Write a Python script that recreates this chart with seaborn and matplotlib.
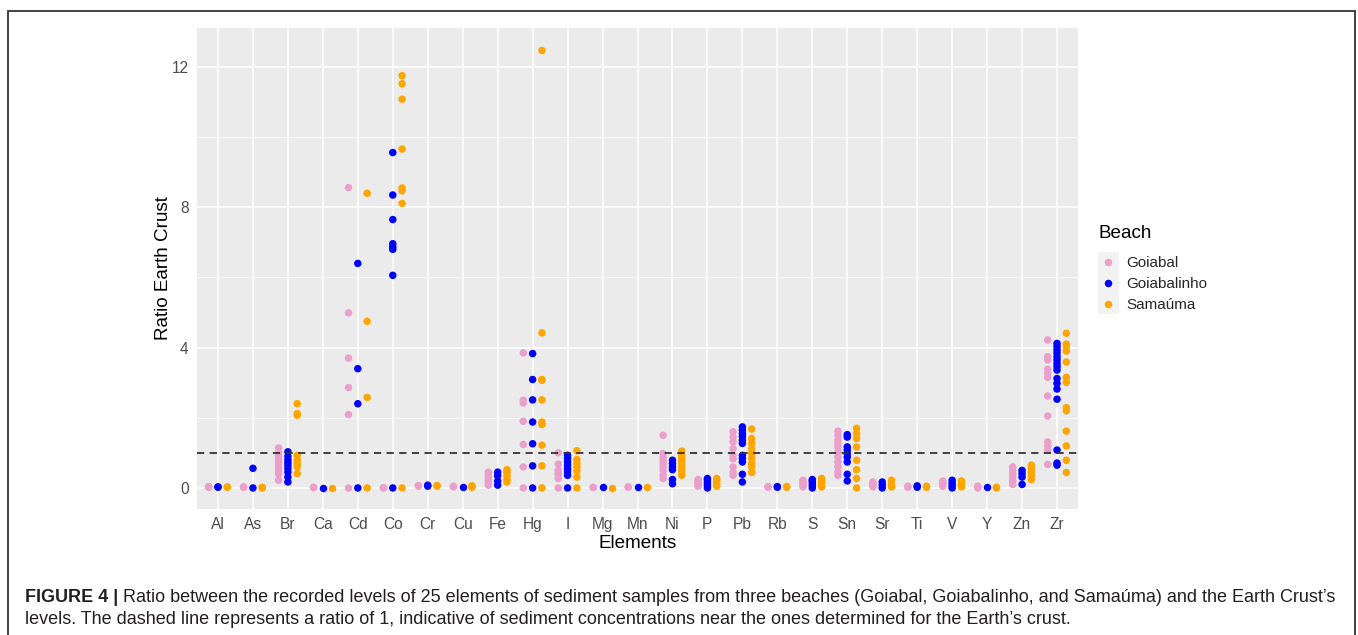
import matplotlib
matplotlib.use("Agg")
import matplotlib.pyplot as plt
import matplotlib.patches as mpatches
from matplotlib.ticker import MultipleLocator
import seaborn as sns
import pandas as pd

elements = ["Al", "As", "Br", "Ca", "Cd", "Co", "Cr", "Cu", "Fe", "Hg", "I", "Mg", "Mn",
            "Ni", "P", "Pb", "Rb", "S", "Sn", "Sr", "Ti", "V", "Y", "Zn", "Zr"]
beaches = ["Goiabal", "Goiabalinho", "Samaúma"]

goiabal = [
    [0.02, 0.03, 0.04],
    [0.02, 0.03],
    [1.14, 1.0, 0.9, 0.84, 0.75, 0.7, 0.6, 0.5, 0.4, 0.22],
    [0.01, 0.02],
    [8.56, 4.99, 3.70, 2.86, 2.09, 0.0],
    [0.0, 0.01],
    [0.05, 0.07],
    [0.03, 0.05],
    [0.08, 0.15, 0.22, 0.3, 0.38, 0.45],
    [3.85, 2.5, 2.42, 1.9, 1.24, 0.6, 0.0],
    [1.0, 0.68, 0.5, 0.42, 0.38, 0.27, 0.0],
    [0.01, 0.02],
    [0.02, 0.03],
    [1.5, 0.98, 0.88, 0.79, 0.7, 0.6, 0.5, 0.36, 0.27],
    [0.05, 0.1, 0.15, 0.2, 0.24],
    [1.6, 1.45, 1.31, 1.12, 0.93, 0.83, 0.6, 0.45, 0.36],
    [0.02, 0.04],
    [0.03, 0.08, 0.13, 0.18, 0.22],
    [1.62, 1.5, 1.36, 1.27, 1.17, 1.03, 0.88, 0.74, 0.6, 0.45, 0.36],
    [0.03, 0.08, 0.13, 0.17],
    [0.02, 0.05],
    [0.05, 0.1, 0.15, 0.2],
    [0.0, 0.03, 0.05],
    [0.1, 0.2, 0.3, 0.4, 0.5, 0.6],
    [4.22, 3.74, 3.65, 3.38, 3.27, 3.15, 2.62, 2.05, 1.31, 1.19, 1.08, 0.67],
]

goiabalinho = [
    [0.02, 0.03],
    [0.0, 0.56],
    [1.03, 0.9, 0.8, 0.72, 0.64, 0.55, 0.45, 0.31, 0.17],
    [0.01],
    [6.40, 3.40, 2.40, 0.0],
    [9.56, 8.35, 7.65, 6.96, 6.87, 6.80, 6.06, 0.0],
    [0.05, 0.08],
    [0.03],
    [0.08, 0.2, 0.35, 0.45],
    [3.83, 3.09, 2.51, 1.88, 1.26, 0.63, 0.0],
    [0.93, 0.84, 0.74, 0.65, 0.55, 0.46, 0.36, 0.0],
    [0.02],
    [0.02],
    [0.79, 0.7, 0.6, 0.52, 0.24, 0.12],
    [0.0, 0.08, 0.15, 0.22, 0.27],
    [1.74, 1.65, 1.55, 1.46, 1.36, 1.27, 0.93, 0.84, 0.74, 0.39, 0.17],
    [0.02, 0.04],
    [0.0, 0.07, 0.14, 0.2, 0.24],
    [1.52, 1.45, 1.17, 1.08, 0.98, 0.88, 0.74, 0.39, 0.2],
    [0.0, 0.08, 0.17],
    [0.02, 0.06],
    [0.0, 0.07, 0.14, 0.22],
    [0.03],
    [0.1, 0.31, 0.41, 0.5],
    [4.12, 4.03, 3.93, 3.84, 3.74, 3.65, 3.55, 3.46, 3.36, 3.12, 2.98, 2.82, 2.53, 1.08, 0.71, 0.65],
]

samauma = [
    [0.02, 0.03],
    [0.0, 0.02],
    [2.4, 2.12, 2.07, 0.93, 0.79, 0.69, 0.6, 0.41],
    [0.01],
    [8.40, 4.75, 2.58, 0.0],
    [11.75, 11.52, 11.08, 9.66, 8.55, 8.47, 8.11, 0.0],
    [0.05, 0.07],
    [0.02, 0.04, 0.06],
    [0.17, 0.25, 0.35, 0.45, 0.52],
    [12.47, 4.42, 3.09, 3.07, 2.51, 1.88, 1.81, 1.22, 0.63, 0.0],
    [1.06, 0.81, 0.7, 0.6, 0.49, 0.31, 0.0],
    [0.01],
    [0.03],
    [1.05, 0.93, 0.84, 0.74, 0.65, 0.55, 0.46, 0.36],
    [0.05, 0.12, 0.2, 0.27],
    [1.68, 1.41, 1.27, 1.12, 0.98, 0.84, 0.69, 0.6, 0.44],
    [0.02, 0.04],
    [0.03, 0.1, 0.18, 0.27],
    [1.7, 1.55, 1.41, 1.17, 0.79, 0.52, 0.27, 0.0],
    [0.03, 0.1, 0.22],
    [0.02, 0.05],
    [0.03, 0.1, 0.2],
    [0.0, 0.02],
    [0.24, 0.36, 0.45, 0.55, 0.65],
    [4.41, 4.1, 4.03, 3.9, 3.59, 3.15, 3.01, 2.29, 2.2, 1.62, 1.2, 0.79, 0.44],
]

colors = {"Goiabal": "#EAA0CB", "Goiabalinho": "#0000FF", "Samaúma": "#FFA500"}

rows = []
for beach, series in zip(beaches, [goiabal, goiabalinho, samauma]):
    for el, vals in zip(elements, series):
        for v in vals:
            rows.append({"Elements": el, "Ratio": v, "Beach": beach})
df = pd.DataFrame(rows)

sns.set_theme(style="white")
plt.rcParams["font.family"] = ["Liberation Sans", "DejaVu Sans"]

W, H = 1358, 635
fig = plt.figure(figsize=(W / 100, H / 100), dpi=100)
fig.patch.set_facecolor("white")

ax = fig.add_axes([197 / W, 1 - 509 / H, (1078 - 197) / W, (509 - 28) / H])
ax.set_facecolor("#EBEBEB")

sns.stripplot(data=df, x="Elements", y="Ratio", hue="Beach", order=elements,
              hue_order=beaches, palette=colors, dodge=True, jitter=False,
              s=5.4, linewidth=0, ax=ax, legend=True, zorder=3)

ax.axhline(1, color="#333333", lw=1.3, ls=(0, (4, 3)), zorder=4)

ax.set_xlim(-0.6, 24.6)
ax.set_ylim(-0.6, 13.11)
ax.yaxis.set_major_locator(MultipleLocator(4))
ax.yaxis.set_minor_locator(MultipleLocator(2))
ax.grid(which="major", axis="both", color="white", lw=1.1)
ax.grid(which="minor", axis="y", color="white", lw=0.55)
ax.set_axisbelow(True)
for sp in ax.spines.values():
    sp.set_visible(False)
ax.tick_params(axis="both", which="major", length=3.5, width=0.8, color="#333333",
               labelcolor="#4D4D4D", labelsize=11.2, pad=2.5)
ax.tick_params(axis="y", which="minor", length=0)
ax.set_xlabel("Elements", fontsize=13.6, color="black", labelpad=2)
ax.set_ylabel("Ratio Earth Crust", fontsize=13.6, color="black", labelpad=0)

# legend
handles, labels = ax.get_legend_handles_labels()
if ax.legend_:
    ax.legend_.remove()
fig.patches.append(mpatches.Rectangle((1098 / W, 1 - 314 / H), 21 / W, 62 / H,
                                      transform=fig.transFigure, facecolor="#F2F2F2",
                                      edgecolor="none", zorder=0))
fig.text(1099 / W, 1 - 234 / H, "Beach", fontsize=13.6, color="black",
         ha="left", va="center")
leg = fig.legend(handles, labels, loc="upper left",
                 bbox_to_anchor=(1101 / W, 1 - 256 / H), frameon=False,
                 fontsize=11.0, handlelength=0.9,
                 handletextpad=0.75, labelspacing=0.46, markerscale=1.0,
                 borderaxespad=0, borderpad=0)

# outer border
fig.patches.append(mpatches.Rectangle((8 / W, -0.05), (1355 - 8) / W, 1.05 - 11 / H,
                                      transform=fig.transFigure, facecolor="none",
                                      edgecolor="#333333", lw=1.3, zorder=0))

# caption
line1 = ("Ratio between the recorded levels of 25 elements of sediment samples from three "
         "beaches (Goiabal, Goiabalinho, and Samaúma) and the Earth Crust\u2019s")
line2 = ("levels. The dashed line represents a ratio of 1, indicative of sediment "
         "concentrations near the ones determined for the Earth\u2019s crust.")
cap_size = 13.0
cap_col = "#231F20"
t0 = fig.text(25 / W, 1 - 598 / H, "FIGURE 4 |", fontsize=cap_size, fontweight="bold",
              color=cap_col, va="center", ha="left")
fig.canvas.draw()
bb = t0.get_window_extent(renderer=fig.canvas.get_renderer())
fig.text((bb.x1 + 5) / W, 1 - 598 / H, line1, fontsize=cap_size, color=cap_col,
         va="center", ha="left")
fig.text(25 / W, 1 - 620 / H, line2, fontsize=cap_size, color=cap_col,
         va="center", ha="left")

fig.savefig("out.png", dpi=100)
